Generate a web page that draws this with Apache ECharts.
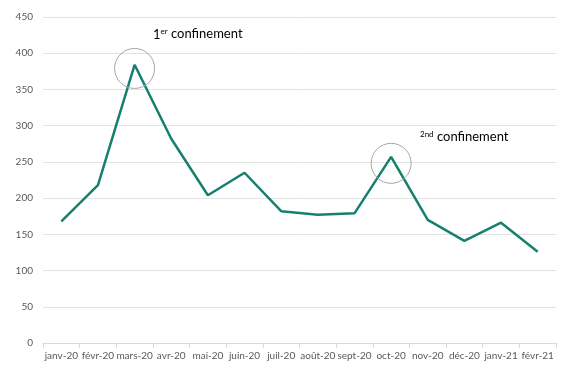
<!DOCTYPE html>
<html>
<head>
<meta charset="utf-8">
<script src="https://cdn.jsdelivr.net/npm/echarts@6/dist/echarts.min.js"></script>
<style>
    html, body { margin: 0; padding: 0; background: #fff; }
    #container { width: 569px; height: 376px; }
</style>
</head>
<body>
<div id="container"></div>
<script>
    // données
    let months = ['janv-20', 'févr-20', 'mars-20', 'avr-20', 'mai-20', 'juin-20', 'juil-20',
        'août-20', 'sept-20', 'oct-20', 'nov-20', 'déc-20', 'janv-21', 'févr-21'];
    let counts = [168, 218, 384, 282, 204, 235, 182, 177, 179, 257, 170, 141, 166, 126];
    let peaks = [['mars-20', 379], ['oct-20', 248]];

    let myChart = echarts.init(document.getElementById('container'));
    let font = 'Lato, "Open Sans", sans-serif';

    let option = {
        animation: false,
        grid: { left: 43, right: 13, top: 17, bottom: 33 },
        xAxis: {
            type: 'category',
            data: months,
            boundaryGap: true,
            axisLine: { lineStyle: { color: '#d9d9d9' } },
            axisTick: { show: true, length: 5, lineStyle: { color: '#d9d9d9' } },
            axisLabel: { color: '#595959', fontSize: 10, fontFamily: font, margin: 8, interval: 0 }
        },
        yAxis: {
            type: 'value',
            min: 0,
            max: 450,
            interval: 50,
            axisLine: { show: false },
            axisTick: { show: false },
            axisLabel: { color: '#595959', fontSize: 10, fontFamily: font, margin: 10 },
            splitLine: { lineStyle: { color: '#e3e3e3', width: 1 } }
        },
        series: [{
            type: 'line',
            data: counts,
            symbol: 'none',
            lineStyle: { color: '#16806f', width: 2.5 },
            markPoint: {
                symbol: 'circle',
                symbolSize: 40,
                label: { show: false },
                itemStyle: { color: 'transparent', borderColor: '#a6a6a6', borderWidth: 1 },
                data: peaks.map(function (p) { return { coord: p }; })
            }
        }],
        graphic: [{
            type: 'text',
            left: 153,
            top: 27,
            style: {
                text: '{n|1}{s|er} {t|confinement}',
                rich: {
                    n: { fontSize: 13, fontFamily: font, fill: '#000', verticalAlign: 'bottom' },
                    s: { fontSize: 8, fontFamily: font, fill: '#000', verticalAlign: 'top', padding: [0, 0, 6, 0] },
                    t: { fontSize: 13, fontFamily: font, fill: '#000' }
                }
            }
        }, {
            type: 'text',
            left: 420,
            top: 130,
            style: {
                text: '{s|2nd} {t|confinement}',
                rich: {
                    s: { fontSize: 8, fontFamily: font, fill: '#000', padding: [0, 0, 6, 0] },
                    t: { fontSize: 13, fontFamily: font, fill: '#000' }
                }
            }
        }]
    };
    myChart.setOption(option, true);
</script>
</body>
</html>
